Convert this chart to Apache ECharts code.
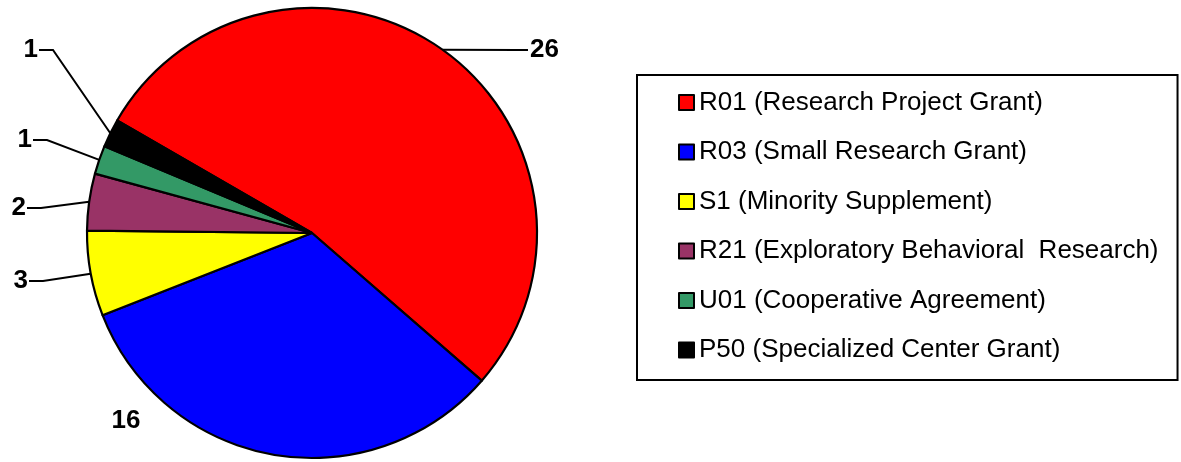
<!DOCTYPE html>
<html>
<head>
<meta charset="utf-8">
<script src="https://cdn.jsdelivr.net/npm/echarts@6/dist/echarts.min.js"></script>
<style>
  html, body { margin: 0; padding: 0; background: #fff; }
  #chart { width: 1181px; height: 462px; }
</style>
</head>
<body>
<div id="chart"></div>
<script>
  // grant mechanisms and how many of each
  const grantTypes = [
    'R01 (Research Project Grant)',
    'R03 (Small Research Grant)',
    'S1 (Minority Supplement)',
    'R21 (Exploratory Behavioral  Research)',
    'U01 (Cooperative Agreement)',
    'P50 (Specialized Center Grant)'
  ];
  const grantCounts = [26, 16, 3, 2, 1, 1];

  const sliceColors = ['#ff0000', '#0000ff', '#ffff00', '#993366', '#339966', '#000000'];

  // where each number label sits (end of its leader line), by slice
  const labelSpots = [
    { x: 528, y: 50, side: 'right' },
    { x: 126, y: 421, side: 'none' },
    { x: 29, y: 281, side: 'left' },
    { x: 27, y: 208, side: 'left' },
    { x: 33, y: 140, side: 'left' },
    { x: 39, y: 50, side: 'left' }
  ];

  var chart = echarts.init(document.getElementById('chart'));

  var pieData = grantTypes.map(function (name, i) {
    var item = {
      name: name,
      value: grantCounts[i],
      itemStyle: { color: sliceColors[i] }
    };
    if (labelSpots[i].side === 'none') item.labelLine = { show: false };
    return item;
  });

  var option = {
    animation: false,
    backgroundColor: '#fff',
    legend: {
      data: grantTypes,
      orient: 'vertical',
      left: 637,
      top: 75,
      padding: [12.5, 19, 15, 41],
      itemGap: 19.5,
      itemWidth: 15,
      itemHeight: 15,
      itemTextGap: 5,
      icon: 'rect',
      selectedMode: false,
      borderColor: '#000',
      borderWidth: 2,
      itemStyle: { borderColor: '#000', borderWidth: 2 },
      textStyle: {
        fontFamily: 'Arial, "Liberation Sans", sans-serif',
        fontSize: 26,
        lineHeight: 30,
        color: '#000'
      }
    },
    series: [{
      type: 'pie',
      center: [312, 233],
      radius: 225,
      startAngle: 150,
      clockwise: true,
      avoidLabelOverlap: false,
      itemStyle: { borderColor: '#000', borderWidth: 2.2 },
      label: {
        show: true,
        position: 'outside',
        formatter: '{c}',
        fontFamily: 'Arial, "Liberation Sans", sans-serif',
        fontWeight: 'bold',
        fontSize: 26,
        color: '#000'
      },
      labelLine: {
        show: true,
        length: 20,
        length2: 10,
        lineStyle: { color: '#000', width: 2 }
      },
      labelLayout: function (params) {
        var spot = labelSpots[params.dataIndex];
        if (spot.side === 'none') {
          return { x: spot.x, y: spot.y, align: 'center', verticalAlign: 'middle' };
        }
        var edge = params.labelLinePoints ? params.labelLinePoints[0] : [spot.x, spot.y];
        var bend = spot.side === 'left' ? [spot.x + 14, spot.y] : [spot.x - 10, spot.y];
        return {
          x: spot.side === 'left' ? spot.x - 1 : spot.x + 2,
          y: spot.y,
          align: spot.side === 'left' ? 'right' : 'left',
          verticalAlign: 'middle',
          labelLinePoints: [edge, bend, [spot.x, spot.y]]
        };
      },
      data: pieData
    }]
  };

  chart.setOption(option);
</script>
</body>
</html>
